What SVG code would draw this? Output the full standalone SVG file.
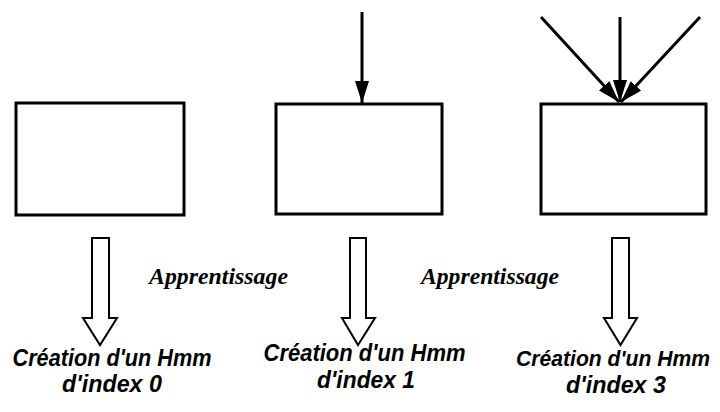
<svg xmlns="http://www.w3.org/2000/svg" width="720" height="412" viewBox="0 0 720 412">
  <style>
    .box { fill: #ffffff; stroke: #000000; stroke-width: 3; }
    .line { stroke: #000000; stroke-width: 3; fill: none; }
    .block { fill: #ffffff; stroke: #000000; stroke-width: 2; stroke-linejoin: miter; }
    .lbl { font-family: "Liberation Sans", Arial, sans-serif; font-weight: bold; font-style: italic; font-size: 23px; fill: #000; text-anchor: middle; }
    .app { font-family: "Liberation Serif", "Times New Roman", serif; font-weight: bold; font-style: italic; font-size: 23.5px; fill: #000; }
  </style>
  <defs>
    <marker id="ah" markerUnits="userSpaceOnUse" markerWidth="24" markerHeight="16" refX="22" refY="7" orient="auto">
      <path d="M0,0 L22,7 L0,14 Z" fill="#000"/>
    </marker>
  </defs>
  <rect width="720" height="412" fill="#ffffff"/>

  <g id="node-0">
    <rect class="box" x="16" y="103" width="168" height="112"/>
  </g>
  <g id="node-1">
    <rect class="box" x="276" y="104" width="166" height="110"/>
  </g>
  <g id="node-2">
    <rect class="box" x="541" y="104" width="165" height="110"/>
  </g>

  <g id="connectors">
    <line class="line" x1="362" y1="12" x2="362" y2="103" marker-end="url(#ah)"/>
    <line class="line" x1="620" y1="17" x2="620" y2="102" marker-end="url(#ah)"/>
    <line class="line" x1="541" y1="17" x2="619" y2="102" marker-end="url(#ah)"/>
    <line class="line" x1="700" y1="17" x2="621" y2="102" marker-end="url(#ah)"/>
    <path class="block" d="M92,238 L109,238 L109,318 L117,318 L100,345 L83,318 L92,318 Z"/>
    <path class="block" d="M350,238 L366,238 L366,318 L375,318 L358,345 L342,318 L350,318 Z"/>
    <path class="block" d="M612,238 L629,238 L629,318 L637,318 L620.5,345 L604,318 L612,318 Z"/>
  </g>

  <g id="label-apprentissage-1">
    <text class="app" x="149" y="284" textLength="139" lengthAdjust="spacingAndGlyphs">Apprentissage</text>
  </g>
  <g id="label-apprentissage-2">
    <text class="app" x="421" y="284" textLength="138" lengthAdjust="spacingAndGlyphs">Apprentissage</text>
  </g>

  <g id="label-hmm-0">
    <text class="lbl" x="112" y="366" textLength="199" lengthAdjust="spacingAndGlyphs">Création d'un Hmm</text>
    <text class="lbl" x="112" y="392" textLength="100" lengthAdjust="spacingAndGlyphs">d'index 0</text>
  </g>
  <g id="label-hmm-1">
    <text class="lbl" x="364.5" y="361" textLength="202" lengthAdjust="spacingAndGlyphs">Création d'un Hmm</text>
    <text class="lbl" x="366" y="388" textLength="98" lengthAdjust="spacingAndGlyphs">d'index 1</text>
  </g>
  <g id="label-hmm-3">
    <text class="lbl" x="613" y="366" style="font-size:22px" textLength="194" lengthAdjust="spacingAndGlyphs">Création d'un Hmm</text>
    <text class="lbl" x="616" y="393" textLength="100" lengthAdjust="spacingAndGlyphs">d'index 3</text>
  </g>
</svg>
